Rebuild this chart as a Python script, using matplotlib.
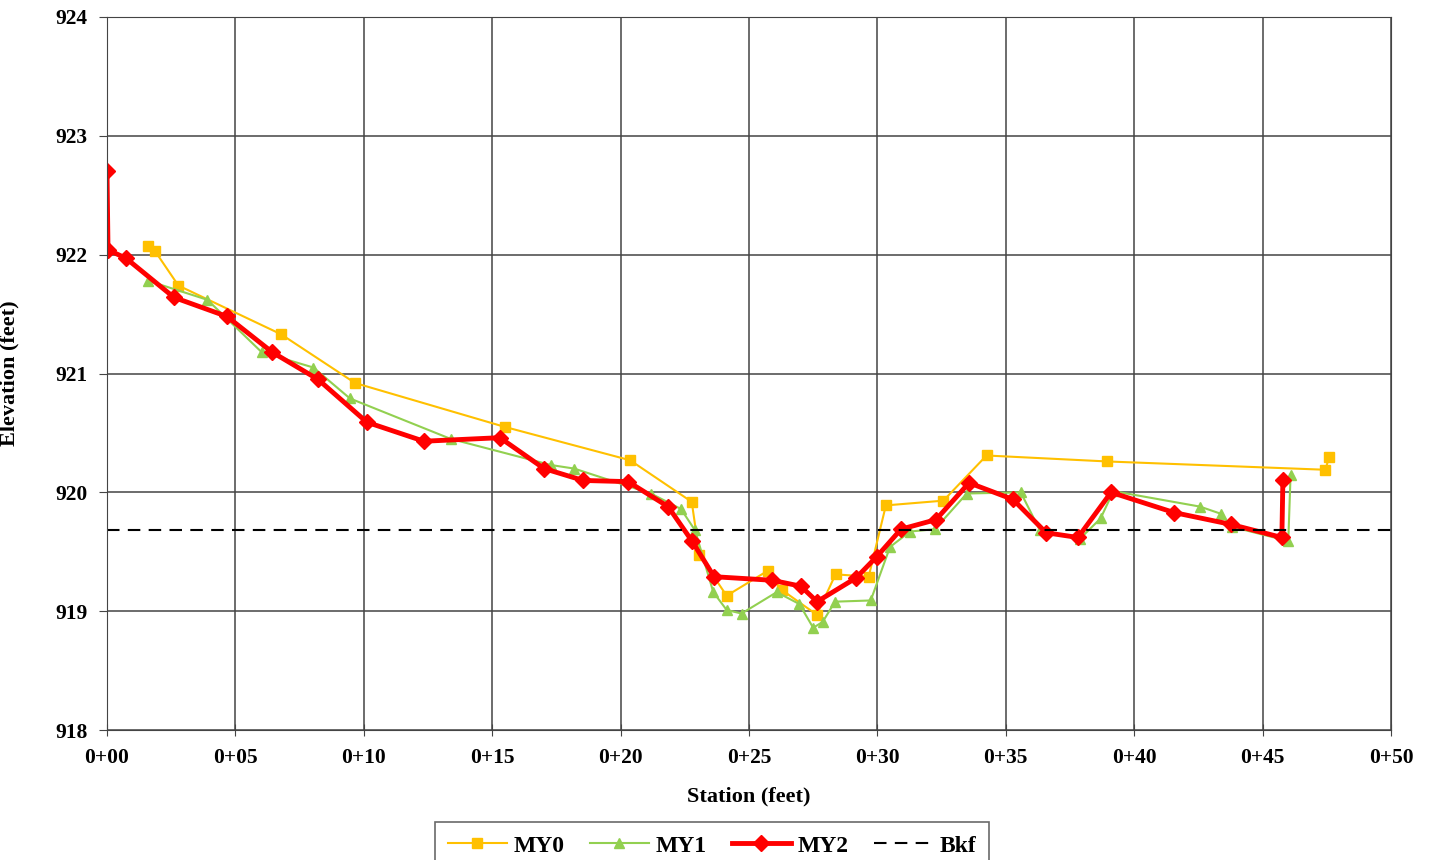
import matplotlib.pyplot as plt
from matplotlib.ticker import FuncFormatter

# station (ft) / elevation (ft)
my0_x = [1.61, 1.87, 2.78, 6.78, 9.66, 15.50, 20.37, 22.77, 23.07, 24.13, 25.73,
         26.27, 27.64, 28.37, 29.66, 30.33, 32.57, 34.25, 38.93, 47.44, 47.60]
my0_y = [922.07, 922.03, 921.74, 921.33, 920.92, 920.55, 920.27, 919.92, 919.47, 919.13, 919.34,
         919.18, 918.97, 919.31, 919.29, 919.89, 919.93, 920.31, 920.26, 920.19, 920.30]

my1_x = [1.61, 3.91, 6.02, 8.04, 9.46, 13.38, 17.28, 18.19, 21.18, 22.35, 22.90, 23.61,
         24.13, 24.71, 26.08, 26.96, 27.50, 27.87, 28.35, 29.74, 30.49, 31.27, 32.24,
         33.48, 35.58, 36.33, 37.89, 38.69, 39.19, 42.56, 43.37, 43.80, 46.00, 46.09]
my1_y = [921.78, 921.62, 921.18, 921.05, 920.79, 920.45, 920.23, 920.20, 919.99, 919.86, 919.68, 919.16,
         919.01, 918.98, 919.16, 919.06, 918.86, 918.91, 919.08, 919.09, 919.54, 919.67, 919.69,
         919.99, 920.00, 919.68, 919.61, 919.78, 920.01, 919.88, 919.82, 919.71, 919.59, 920.15]

my2_x = [0.00, 0.04, 0.74, 2.61, 4.67, 6.43, 8.22, 10.12, 12.34, 15.30, 17.02, 18.54,
         20.29, 21.85, 22.78, 23.64, 25.90, 27.02, 27.65, 29.17, 29.98, 30.92, 32.28,
         33.57, 35.28, 36.57, 37.81, 39.10, 41.55, 43.77, 45.75, 45.79]
my2_y = [922.70, 922.04, 921.97, 921.64, 921.48, 921.18, 920.95, 920.59, 920.43, 920.46, 920.20, 920.10,
         920.09, 919.88, 919.59, 919.29, 919.26, 919.21, 919.08, 919.28, 919.46, 919.69, 919.77,
         920.08, 919.94, 919.66, 919.62, 920.00, 919.83, 919.73, 919.62, 920.10]

bkf_elev = 919.68

plt.rcParams['font.family'] = ['Liberation Serif', 'DejaVu Serif']
plt.rcParams['font.weight'] = 'bold'

fig = plt.figure(figsize=(14.31, 8.6), dpi=100)
ax = fig.add_axes([107 / 1431, 1 - 730 / 860, (1391 - 107) / 1431, (730 - 17) / 860])

ax.plot(my0_x, my0_y, color='#FFC000', lw=1.5, marker='s', ms=7, label='MY0')
ax.plot(my1_x, my1_y, color='#92D050', lw=1.5, marker='^', ms=7, label='MY1')
ax.plot(my2_x, my2_y, color='#FF0000', lw=3.5, marker='D', ms=8, label='MY2')
ax.axhline(bkf_elev, color='black', lw=1.5, ls=(0, (6, 4)), label='Bkf')

ax.set_xlim(0, 50)
ax.set_ylim(918, 924)
ax.set_xticks(range(0, 51, 5))
ax.set_yticks(range(918, 925))
ax.xaxis.set_major_formatter(FuncFormatter(lambda v, p: f"0+{int(v):02d}"))
ax.grid(True, color='#444444', lw=1.1)
ax.set_axisbelow(True)
for s in ax.spines.values():
    s.set_color('#444444')
ax.tick_params(axis='x', labelsize=15.5, length=8, direction='inout', color='#444444', pad=9)
ax.tick_params(axis='y', labelsize=15.5, length=6, direction='out', color='#444444', pad=8)
for lab in ax.get_xticklabels() + ax.get_yticklabels():
    lab.set_fontweight('bold')

ax.set_xlabel('Station (feet)', fontsize=16, fontweight='bold', labelpad=13)
ax.set_ylabel('Elevation (feet)', fontsize=16, fontweight='bold')
ax.yaxis.set_label_coords(-0.068, 0.5)

leg = fig.legend(loc='upper center', bbox_to_anchor=(0.4976, 0.044), ncol=4,
                 fontsize=17, frameon=True, fancybox=False, edgecolor='#444444',
                 handlelength=2.5, handletextpad=0.3, columnspacing=1.05,
                 borderpad=0.55, borderaxespad=0)
leg.get_frame().set_linewidth(1.2)
for t in leg.get_texts():
    t.set_fontweight('bold')

fig.savefig('out.png', dpi=100)
